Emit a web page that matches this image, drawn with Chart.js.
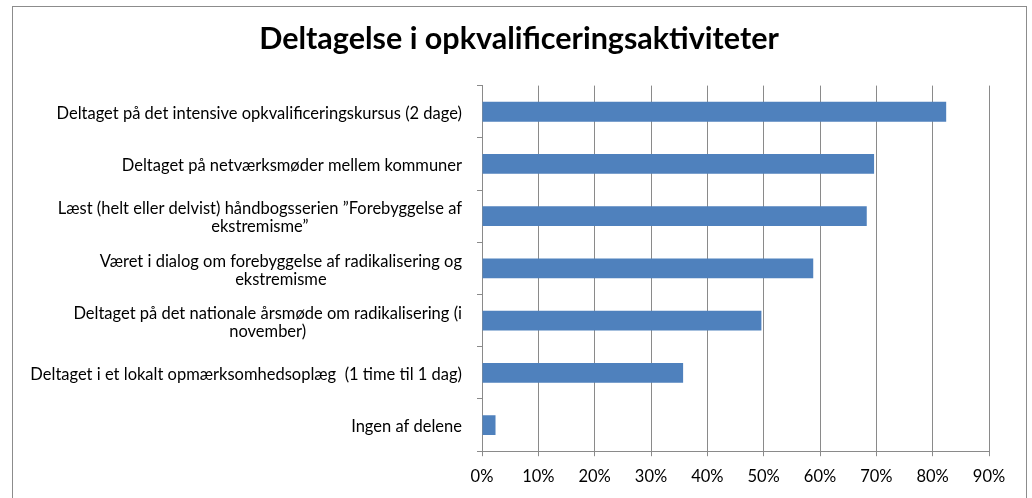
<!DOCTYPE html>
<html>
<head>
<meta charset="utf-8">
<script src="https://cdn.jsdelivr.net/npm/chart.js@4"></script>
<style>
  html, body { margin: 0; padding: 0; background: #fff; }
  #wrap { position: relative; width: 1032px; height: 498px; overflow: hidden; }
  #frame { position: absolute; left: 12px; top: 6px; width: 1015px; height: 520px; border: 1px solid #8c8c8c; box-sizing: border-box; }
  canvas { position: absolute; left: 0; top: 0; }
</style>
</head>
<body>
<div id="wrap">
  <div id="frame"></div>
  <canvas id="myChart" width="1032" height="498"></canvas>
</div>
<script>
const chartTitle = 'Deltagelse i opkvalificeringsaktiviteter';

const categories = [
    ['Deltaget på det intensive opkvalificeringskursus (2 dage)'],
    ['Deltaget på netværksmøder mellem kommuner '],
    ['Læst (helt eller delvist) håndbogsserien ”Forebyggelse af', 'ekstremisme”'],
    ['Været i dialog om forebyggelse af radikalisering og', 'ekstremisme'],
    ['Deltaget på det nationale årsmøde om radikalisering (i', 'november)'],
    ['Deltaget i et lokalt opmærksomhedsoplæg  (1 time til 1 dag)'],
    ['Ingen af delene']
];

const shares = [0.824, 0.696, 0.683, 0.588, 0.496, 0.357, 0.024];

const xTicks = [0, 0.1, 0.2, 0.3, 0.4, 0.5, 0.6, 0.7, 0.8, 0.9];

const fontFamily = 'Lato, "Noto Sans", sans-serif';
const labelFont = '16.5px ' + fontFamily;

// draws the category labels: box right-aligned, lines centred inside it (like Excel)
const categoryLabels = {
    id: 'categoryLabels',
    afterDraw(chart) {
        const ctx = chart.ctx;
        const yScale = chart.scales.y;
        const rightEdge = chart.chartArea.left - 20;
        const lineHeight = 18;
        ctx.save();
        ctx.font = labelFont;
        ctx.fillStyle = '#000';
        ctx.textAlign = 'center';
        ctx.textBaseline = 'middle';
        categories.forEach((lines, i) => {
            const yc = yScale.getPixelForValue(i) + 2;
            const widest = Math.max(...lines.map(l => ctx.measureText(l.trimEnd()).width));
            const xc = rightEdge - widest / 2;
            const y0 = yc - (lines.length - 1) * lineHeight / 2;
            lines.forEach((l, j) => ctx.fillText(l.trimEnd(), xc, y0 + j * lineHeight));
        });
        ctx.restore();
    }
};

const ctx = document.getElementById('myChart').getContext('2d');

new Chart(ctx, {
    type: 'bar',
    data: {
        labels: categories,
        datasets: [{
            data: shares,
            backgroundColor: '#4F81BD',
            borderWidth: 0,
            categoryPercentage: 1,
            barPercentage: 0.38
        }]
    },
    options: {
        indexAxis: 'y',
        responsive: false,
        animation: false,
        layout: { padding: { left: 49, right: 43, top: 0, bottom: 0 } },
        plugins: {
            legend: { display: false },
            tooltip: { enabled: false },
            title: {
                display: true,
                text: chartTitle,
                color: '#000',
                font: { family: fontFamily, size: 30.5, weight: 'bold', lineHeight: 1.2 },
                padding: { top: 21, bottom: 28 }
            }
        },
        scales: {
            x: {
                min: 0,
                max: 0.9,
                afterBuildTicks: (scale) => { scale.ticks = xTicks.map(v => ({ value: v })); },
                ticks: {
                    color: '#000',
                    font: { family: fontFamily, size: 16.5 },
                    padding: 11,
                    maxRotation: 0,
                    callback: (v) => Math.round(v * 100) + '%'
                },
                grid: { color: '#8a8a8a', lineWidth: 1, tickLength: 5 },
                border: { color: '#8a8a8a', width: 1 }
            },
            y: {
                afterFit: (scale) => { scale.width = 482 - 49; },
                ticks: { display: false },
                grid: { drawOnChartArea: false, color: '#8a8a8a', tickLength: 5, offset: true },
                border: { color: '#8a8a8a', width: 1 }
            }
        }
    },
    plugins: [categoryLabels]
});
</script>
</body>
</html>
